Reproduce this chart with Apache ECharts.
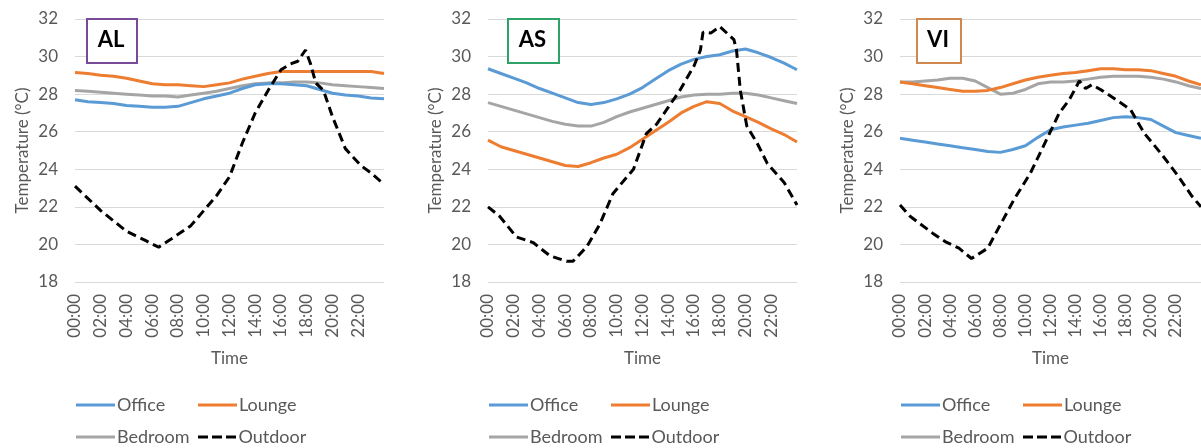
<!DOCTYPE html>
<html>
<head>
<meta charset="utf-8">
<script src="https://cdn.jsdelivr.net/npm/echarts@6/dist/echarts.min.js"></script>
<style>
html,body{margin:0;padding:0;background:#fff;}
#chart{width:1201px;height:448px;}
</style>
</head>
<body>
<div id="chart"></div>
<script>
// ---- data ----
const hours = [0,1,2,3,4,5,6,7,8,9,10,11,12,13,14,15,16,17,18,19,20,21,22,23,24];
const tickLabels = ['00:00','02:00','04:00','06:00','08:00','10:00','12:00','14:00','16:00','18:00','20:00','22:00'];
const seriesNames = ['Office','Lounge','Bedroom','Outdoor'];
const panelNames = ['AL','AS','VI'];

// AL
const alOffice  = [27.7,27.6,27.55,27.5,27.4,27.35,27.3,27.3,27.35,27.55,27.75,27.9,28.05,28.3,28.5,28.55,28.55,28.5,28.45,28.25,28.05,27.95,27.9,27.8,27.75];
const alLounge  = [29.15,29.1,29.0,28.95,28.85,28.7,28.55,28.5,28.5,28.45,28.4,28.5,28.6,28.8,28.95,29.1,29.2,29.2,29.2,29.2,29.2,29.2,29.2,29.2,29.1];
const alBedroom = [28.2,28.15,28.1,28.05,28.0,27.95,27.9,27.9,27.85,27.95,28.05,28.15,28.3,28.45,28.55,28.6,28.6,28.65,28.65,28.6,28.5,28.45,28.4,28.35,28.3];
const alOutdoorTime = [0,2,4,5.5,6.5,7.5,9,10,11,12,13,14,15,16,16.7,17.3,17.9,18.3,18.7,19.3,20,21,22.2,23,24];
const alOutdoor     = [23.1,21.8,20.7,20.2,19.85,20.3,21.0,21.8,22.6,23.6,25.4,27.0,28.2,29.3,29.6,29.75,30.35,29.6,28.6,28.2,26.8,25.1,24.2,23.8,23.2];

// AS
const asOffice  = [29.35,29.1,28.85,28.6,28.3,28.05,27.8,27.55,27.45,27.55,27.75,28.0,28.35,28.8,29.25,29.6,29.85,30.0,30.1,30.3,30.4,30.2,29.95,29.65,29.3];
const asLounge  = [25.55,25.2,25.0,24.8,24.6,24.4,24.2,24.15,24.35,24.6,24.8,25.15,25.6,26.05,26.5,27.0,27.35,27.6,27.5,27.1,26.8,26.5,26.15,25.85,25.45];
const asBedroom = [27.55,27.35,27.15,26.95,26.75,26.55,26.4,26.3,26.3,26.5,26.8,27.05,27.25,27.45,27.65,27.85,27.95,28.0,28.0,28.05,28.05,27.95,27.8,27.65,27.5];
const asOutdoorTime = [0,0.9,2.2,3.5,4.8,6.1,6.6,7.7,8.7,9.7,10.8,11.3,12.3,13.1,13.9,14.9,16,16.5,16.7,17.3,18,19.1,19.3,19.6,20.1,20.9,21.7,23,24];
const asOutdoor     = [22.0,21.5,20.4,20.1,19.4,19.1,19.1,19.9,21.1,22.7,23.6,24.0,25.9,26.4,27.2,28.2,29.5,30.35,31.3,31.25,31.6,30.9,30.35,28.2,26.3,25.4,24.3,23.3,22.1];

// VI
const viOffice  = [25.65,25.55,25.45,25.35,25.25,25.15,25.05,24.95,24.9,25.05,25.25,25.7,26.1,26.25,26.35,26.45,26.6,26.75,26.8,26.75,26.65,26.3,25.95,25.8,25.65];
const viLounge  = [28.65,28.55,28.45,28.35,28.25,28.15,28.15,28.2,28.35,28.55,28.75,28.9,29.0,29.1,29.15,29.25,29.35,29.35,29.3,29.3,29.25,29.1,28.95,28.7,28.5];
const viBedroom = [28.65,28.65,28.7,28.75,28.85,28.85,28.7,28.35,28.0,28.05,28.25,28.55,28.65,28.65,28.7,28.8,28.9,28.95,28.95,28.95,28.9,28.8,28.65,28.45,28.3];
const viOutdoorTime = [0,0.8,2.6,3.6,4.7,5.7,7,7.8,9.1,10.4,11.7,12.7,13.5,14.3,14.8,15.3,16.1,16.9,17.9,18.4,19.5,20.8,22,23.3,24];
const viOutdoor     = [22.1,21.5,20.6,20.15,19.8,19.25,19.8,20.8,22.4,23.8,25.6,27.0,27.7,28.7,28.3,28.5,28.2,27.85,27.4,27.15,25.9,24.85,23.8,22.55,22.0];

// ---- styling / layout ----
const colors = {Office:'#5B9BD5', Lounge:'#ED7D31', Bedroom:'#A5A5A5', Outdoor:'#000000'};
const boxColors = ['#7A4A9A','#2DA36A','#D0884F'];
const gridLefts = [75, 488, 900];
const gridWidth = 309;
const boxes = [[86,18,50,44],[507,18,51,44],[916,18,44,44]];
const FONT = 'Lato';
const TXT = '#595959';
const solidIcon = 'path://M0,0H39V3H0Z';
const dashIcon = 'path://M0,0H10V3H0Z M14,0H24V3H14Z M28,0H38V3H28Z';

const panelData = [
  {Office: alOffice, Lounge: alLounge, Bedroom: alBedroom, outT: alOutdoorTime, Outdoor: alOutdoor},
  {Office: asOffice, Lounge: asLounge, Bedroom: asBedroom, outT: asOutdoorTime, Outdoor: asOutdoor},
  {Office: viOffice, Lounge: viLounge, Bedroom: viBedroom, outT: viOutdoorTime, Outdoor: viOutdoor}
];

const grid = [], xAxis = [], yAxis = [], series = [], legend = [], graphic = [];

panelData.forEach((pd, p) => {
  grid.push({left: gridLefts[p], top: 19, width: gridWidth, height: 263});
  xAxis.push({
    gridIndex: p, type: 'value', min: 0, max: 24, interval: 2,
    name: 'Time', nameLocation: 'middle', nameGap: 68,
    nameTextStyle: {fontFamily: FONT, fontSize: 17, color: TXT},
    axisLine: {show: false}, axisTick: {show: false}, splitLine: {show: false},
    axisLabel: {
      rotate: 90, margin: 12, fontFamily: FONT, fontSize: 17, color: TXT,
      formatter: v => (v < 24 ? tickLabels[Math.round(v / 2)] : '')
    }
  });
  yAxis.push({
    gridIndex: p, type: 'value', min: 18, max: 32, interval: 2,
    name: 'Temperature (°C)', nameLocation: 'middle', nameGap: 44,
    nameTextStyle: {fontFamily: FONT, fontSize: 17, color: TXT},
    axisLine: {show: false}, axisTick: {show: false},
    splitLine: {lineStyle: {color: '#D9D9D9', width: 1}},
    axisLabel: {margin: 17, fontFamily: FONT, fontSize: 17, color: TXT}
  });
  ['Bedroom','Lounge','Office'].forEach(n => {
    series.push({
      name: n, type: 'line', xAxisIndex: p, yAxisIndex: p, symbol: 'none',
      lineStyle: {color: colors[n], width: 3}, itemStyle: {color: colors[n]},
      data: hours.map((h, i) => [h, pd[n][i]])
    });
  });
  series.push({
    name: 'Outdoor', type: 'line', xAxisIndex: p, yAxisIndex: p, symbol: 'none',
    lineStyle: {color: '#000', width: 3, type: [9, 5]}, itemStyle: {color: '#000'},
    data: pd.outT.map((t, i) => [t, pd.Outdoor[i]])
  });
  const L = gridLefts[p];
  const pos = {Office: [L + 1, 396], Lounge: [L + 123, 396], Bedroom: [L + 1, 428], Outdoor: [L + 123, 428]};
  seriesNames.forEach(n => {
    legend.push({
      data: [{name: n, icon: n === 'Outdoor' ? dashIcon : solidIcon}],
      left: pos[n][0], top: pos[n][1], itemWidth: 39, itemHeight: 3, padding: 0,
      selectedMode: false,
      textStyle: {fontFamily: FONT, fontSize: 18, color: TXT, padding: [0, 0, 0, -3]}
    });
  });
  const b = boxes[p];
  graphic.push({
    type: 'rect', left: b[0], top: b[1],
    shape: {width: b[2], height: b[3]},
    style: {fill: '#fff', stroke: boxColors[p], lineWidth: 2}, z: 100
  });
  graphic.push({
    type: 'text', x: b[0] + b[2] / 2, y: b[1] + b[3] / 2,
    style: {text: panelNames[p], font: 'bold 22px ' + FONT, fill: '#000', align: 'center', verticalAlign: 'middle'}, z: 101
  });
});

const chart = echarts.init(document.getElementById('chart'), null, {renderer: 'canvas'});
chart.setOption({
  animation: false,
  backgroundColor: '#fff',
  grid, xAxis, yAxis, series, legend, graphic
});
</script>
</body>
</html>
